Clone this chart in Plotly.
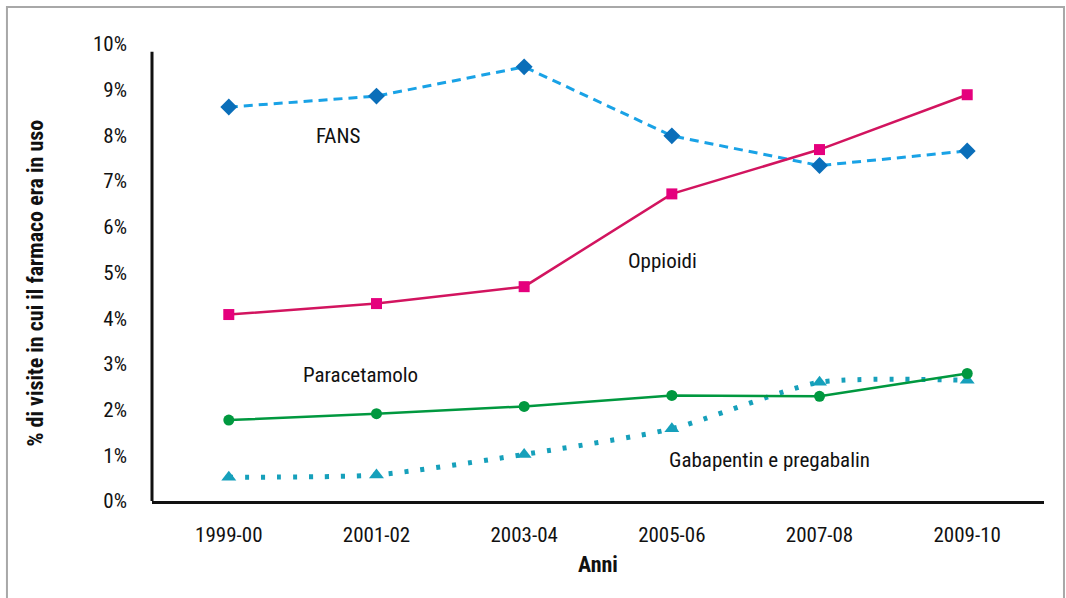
import plotly.graph_objects as go

categories = ["1999-00", "2001-02", "2003-04", "2005-06", "2007-08", "2009-10"]
fans = [8.62, 8.86, 9.50, 7.99, 7.34, 7.66]
oppioidi = [4.08, 4.32, 4.69, 6.72, 7.69, 8.89]
paracetamolo = [1.77, 1.91, 2.07, 2.31, 2.29, 2.79]
gabapentin = [0.52, 0.57, 1.02, 1.58, 2.60, 2.64]
yticks = [0, 1, 2, 3, 4, 5, 6, 7, 8, 9, 10]
yticklabels = [f"{v}%" for v in yticks]

FONT = "Liberation Sans Narrow, Roboto Condensed, Arial Narrow, Liberation Sans, sans-serif"
xi = list(range(len(categories)))

fig = go.Figure()
fig.add_trace(go.Scatter(x=xi, y=fans, mode="lines+markers",
    line=dict(color="#19a2e6", width=3, dash="9px,6px"),
    marker=dict(symbol="diamond", size=13, color="#0a6eb9")))
fig.add_trace(go.Scatter(x=xi, y=oppioidi, mode="lines+markers",
    line=dict(color="#d2145f", width=2.5),
    marker=dict(symbol="square", size=11, color="#e5007d")))
fig.add_trace(go.Scatter(x=xi, y=gabapentin, mode="lines+markers",
    line=dict(color="#16a0bb", width=5, dash="4px,12px", shape="spline", smoothing=0.6),
    marker=dict(symbol="triangle-up", size=13, color="#16a0bb")))
fig.add_trace(go.Scatter(x=xi, y=paracetamolo, mode="lines+markers",
    line=dict(color="#00983f", width=2.5),
    marker=dict(symbol="circle", size=11, color="#00983f")))

labels = [("FANS", 0.74, 7.99), ("Oppioidi", 2.94, 5.26),
          ("Paracetamolo", 0.89, 2.75), ("Gabapentin e pregabalin", 3.66, 0.90)]
for txt, x, y in labels:
    fig.add_annotation(x=x, y=y, xref="x", yref="y", text=txt, showarrow=False,
                       xanchor="center", yanchor="middle",
                       font=dict(family=FONT, size=21, color="#111111"))

fig.add_annotation(x=-0.131, y=0.476, xref="paper", yref="paper",
                   text="<b>% di visite in cui il farmaco era in uso</b>", textangle=-90,
                   xanchor="center", yanchor="middle",
                   showarrow=False, font=dict(family=FONT, size=22, color="#111111"))
fig.add_annotation(x=0.5, y=-0.138, xref="paper", yref="paper", text="<b>Anni</b>",
                   xanchor="center", yanchor="middle",
                   showarrow=False, font=dict(family=FONT, size=22, color="#111111"))

# y axis line (stops slightly below the 10% label) and outer frame
fig.add_shape(type="line", xref="paper", yref="y", x0=0, x1=0, y0=0, y1=9.83,
              line=dict(color="#111111", width=3))
fig.add_shape(type="rect", xref="paper", yref="paper", x0=-0.1626, x1=1.0224,
              y0=-0.3, y1=1.081, line=dict(color="#a8a8a8", width=2), layer="below")

fig.update_layout(
    width=1066, height=598,
    margin=dict(l=152, r=22, t=44, b=97),
    paper_bgcolor="white", plot_bgcolor="white",
    showlegend=False,
    font=dict(family=FONT, size=21, color="#111111"),
    xaxis=dict(range=[-0.52, 5.52], tickvals=xi, ticktext=categories,
               showline=True, linecolor="#111111", linewidth=3, ticks="",
               showgrid=False, zeroline=False, ticklabelstandoff=13,
               tickfont=dict(family=FONT, size=21, color="#111111")),
    yaxis=dict(range=[0, 10], tickvals=yticks, ticktext=yticklabels,
               showline=False, ticks="", showgrid=False, zeroline=False,
               ticklabelstandoff=24,
               tickfont=dict(family=FONT, size=21, color="#111111")),
)

fig.write_html("out.html", config={"displayModeBar": False},
               post_script="document.body.style.margin='0';")
